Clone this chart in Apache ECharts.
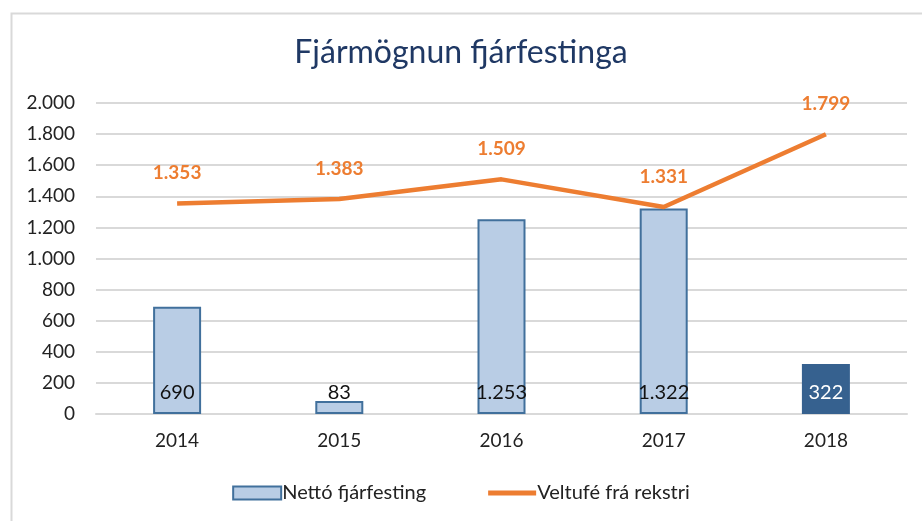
<!DOCTYPE html>
<html>
<head>
<meta charset="utf-8">
<script src="https://cdn.jsdelivr.net/npm/echarts@6/dist/echarts.min.js"></script>
<style>html,body{margin:0;padding:0;background:#fff}#c{width:922px;height:521px}</style>
</head>
<body>
<div id="c"></div>
<script>
const categories = ['2014', '2015', '2016', '2017', '2018'];
const nettoFjarfesting = [690, 83, 1253, 1322, 322];
const veltufe = [1353, 1383, 1509, 1331, 1799];
const yTicks = [0, 200, 400, 600, 800, 1000, 1200, 1400, 1600, 1800, 2000];

const FONT = 'Lato, "Open Sans", sans-serif';
function fmt(v) {
  return String(v).replace(/\B(?=(\d{3})+(?!\d))/g, '.');
}

const chart = echarts.init(document.getElementById('c'));
chart.setOption({
  animation: false,
  backgroundColor: '#fff',
  textStyle: { fontFamily: FONT },
  graphic: [{
    type: 'rect', left: 9, top: 11, shape: { width: 930, height: 530 },
    style: { fill: 'none', stroke: '#d9d9d9', lineWidth: 2 }, silent: true, z: -1
  }],
  title: {
    text: 'Fjármögnun fjárfestinga', left: 'center', top: 32,
    textStyle: { fontFamily: FONT, fontSize: 32, fontWeight: 'normal', color: '#1f3864' }
  },
  legend: {
    bottom: 13, left: 'center', itemGap: 62, itemWidth: 48, itemHeight: 13,
    textStyle: { fontFamily: FONT, fontSize: 20, color: '#222', padding: [0, 0, 0, -4] },
    data: [
      { name: 'Nettó fjárfesting', icon: 'rect', itemStyle: { color: '#b9cde5', borderColor: '#41709c', borderWidth: 2 } },
      { name: 'Veltufé frá rekstri', icon: 'path://M0,0 L96,0 L96,10 L0,10 Z' }
    ]
  },
  grid: { left: 96, right: 15, top: 103, bottom: 107, containLabel: false },
  xAxis: {
    type: 'category', data: categories,
    axisLine: { show: true, lineStyle: { color: '#d9d9d9', width: 2 } },
    axisTick: { show: false },
    axisLabel: { fontFamily: FONT, fontSize: 19, color: '#222', margin: 17 }
  },
  yAxis: {
    type: 'value', min: yTicks[0], max: yTicks[yTicks.length - 1], interval: yTicks[1] - yTicks[0],
    axisLine: { show: false }, axisTick: { show: false },
    splitLine: { lineStyle: { color: '#d9d9d9', width: 2 } },
    axisLabel: { fontFamily: FONT, fontSize: 19, color: '#222', margin: 21, formatter: fmt }
  },
  series: [
    {
      name: 'Nettó fjárfesting', type: 'bar', barWidth: 48,
      data: nettoFjarfesting.map((v, i) => i === nettoFjarfesting.length - 1
        ? { value: v, itemStyle: { color: '#36618f', borderColor: '#36618f' }, label: { color: '#fff' } }
        : v),
      itemStyle: { color: '#b9cde5', borderColor: '#41709c', borderWidth: 2 },
      label: {
        show: true, position: 'insideBottom', distance: 11,
        fontFamily: FONT, fontSize: 20, color: '#111',
        formatter: p => fmt(p.value)
      },
      z: 2
    },
    {
      name: 'Veltufé frá rekstri', type: 'line', data: veltufe,
      symbol: 'circle', symbolSize: 0, showSymbol: true, color: '#ed7d31',
      itemStyle: { color: '#ed7d31' },
      lineStyle: { color: '#ed7d31', width: 4.5 },
      label: {
        show: true, position: 'top', distance: 21,
        fontFamily: FONT, fontSize: 19, fontWeight: 'bold', color: '#ed7d31',
        formatter: p => fmt(p.value)
      },
      z: 3
    }
  ]
});
</script>
</body>
</html>
